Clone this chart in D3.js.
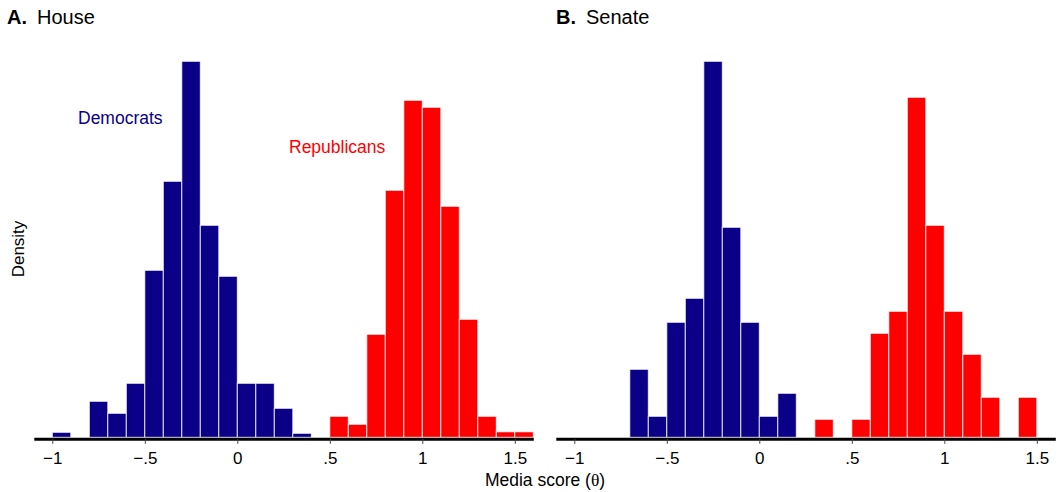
<!DOCTYPE html>
<html>
<head>
<meta charset="utf-8">
<script src="https://cdn.jsdelivr.net/npm/d3@7"></script>
<style>
  body { margin: 0; background: #fff; }
  svg { display: block; font-family: "Liberation Sans", Arial, Helvetica, sans-serif; }
</style>
</head>
<body>
<svg id="chart" width="1060" height="492"></svg>
<script>
// left edge of each 0.1-wide bin
const binLefts = [-1.0, -0.9, -0.8, -0.7, -0.6, -0.5, -0.4, -0.3, -0.2, -0.1,
  0.0, 0.1, 0.2, 0.3, 0.4, 0.5, 0.6, 0.7, 0.8, 0.9, 1.0, 1.1, 1.2, 1.3, 1.4, 1.5]
const binWidth = 0.1

// densities, one per bin
const houseDem = [0.05, 0, 0.36, 0.24, 0.54, 1.67, 2.56, 3.76, 2.12, 1.61,
  0.54, 0.54, 0.29, 0.04, 0, 0, 0, 0, 0, 0, 0, 0, 0, 0, 0, 0]
const houseRep = [0, 0, 0, 0, 0, 0, 0, 0, 0, 0,
  0, 0, 0, 0, 0, 0.21, 0.13, 1.03, 2.47, 3.37, 3.30, 2.31, 1.18, 0.21, 0.055, 0.055]
const senateDem = [0, 0, 0, 0.68, 0.21, 1.15, 1.39, 3.76, 2.10, 1.15,
  0.21, 0.44, 0, 0, 0, 0, 0, 0, 0, 0, 0, 0, 0, 0, 0, 0]
const senateRep = [0, 0, 0, 0, 0, 0, 0, 0, 0, 0,
  0, 0, 0, 0.18, 0, 0.18, 1.04, 1.26, 3.40, 2.12, 1.26, 0.83, 0.40, 0, 0.40, 0]

const tickValues = [-1, -0.5, 0, 0.5, 1, 1.5]
const tickLabels = ['\u22121', '\u2212.5', '0', '.5', '1', '1.5']

const colors = { dem: '#0a0087', rep: '#ff0000' }

const svg = d3.select('#chart')

const y = d3.scaleLinear().domain([0, 4]).range([437.3, 37.3])

/**
 * Draws one histogram panel
 *
 * @param {Array} range pixel range of the x axis
 * @param {Array} dem democrat densities
 * @param {Array} rep republican densities
 * @param {string} letter panel letter
 * @param {string} title panel title
 * @param {number} titleX left of the title
 */
function drawPanel (range, dem, rep, letter, title, titleX) {
  const x = d3.scaleLinear().domain([-1.1, 1.6]).range(range)
  const g = svg.append('g')

  const series = [
    { vals: dem, color: colors.dem },
    { vals: rep, color: colors.rep }
  ]
  series.forEach(function (s) {
    const bins = binLefts.map(function (b, i) { return { x0: b, v: s.vals[i] } })
      .filter(function (d) { return d.v > 0 })
    g.selectAll(null)
      .data(bins)
      .enter()
      .append('rect')
      .attr('x', function (d) { return x(d.x0) })
      .attr('y', function (d) { return y(d.v) })
      .attr('width', function (d) { return x(d.x0 + binWidth) - x(d.x0) })
      .attr('height', function (d) { return y(0) - y(d.v) })
      .attr('fill', s.color)
      .attr('stroke', '#fff')
      .attr('stroke-opacity', 0.8)
      .attr('stroke-width', 1)
  })

  const axis = d3.axisBottom(x)
    .tickValues(tickValues)
    .tickFormat(function (d, i) { return tickLabels[i] })
    .tickSize(5)
    .tickSizeOuter(0)
    .tickPadding(8)

  const ax = g.append('g')
    .attr('transform', 'translate(0,438.8)')
    .call(axis)
  ax.select('.domain').attr('stroke', '#000').attr('stroke-width', 3)
  ax.selectAll('.tick line').attr('stroke', '#444').attr('stroke-width', 1)
  ax.selectAll('.tick text')
    .attr('fill', '#000')
    .style('font-size', '17px')
    .style('font-family', '"Liberation Sans", Arial, sans-serif')

  const t = svg.append('text')
    .attr('x', titleX)
    .attr('y', 24)
    .style('font-size', '20px')
  t.append('tspan').attr('font-weight', 'bold').text(letter)
  t.append('tspan').attr('dx', 10).text(title)
}

drawPanel([33.8, 533.3], houseDem, houseRep, 'A.', 'House', 7)
drawPanel([555.8, 1055.3], senateDem, senateRep, 'B.', 'Senate', 556)

svg.append('text')
  .attr('x', 78)
  .attr('y', 124)
  .attr('fill', colors.dem)
  .style('font-size', '17.5px')
  .text('Democrats')

svg.append('text')
  .attr('x', 289)
  .attr('y', 153)
  .attr('fill', colors.rep)
  .style('font-size', '17.5px')
  .text('Republicans')

svg.append('text')
  .attr('transform', 'translate(24,249) rotate(-90)')
  .attr('text-anchor', 'middle')
  .style('font-size', '17px')
  .text('Density')

const xl = svg.append('text')
  .attr('x', 545)
  .attr('y', 486)
  .attr('text-anchor', 'middle')
  .style('font-size', '17.5px')
xl.append('tspan').text('Media score (')
xl.append('tspan').style('font-family', '"Liberation Serif", serif').text('\u03b8')
xl.append('tspan').text(')')
</script>
</body>
</html>
